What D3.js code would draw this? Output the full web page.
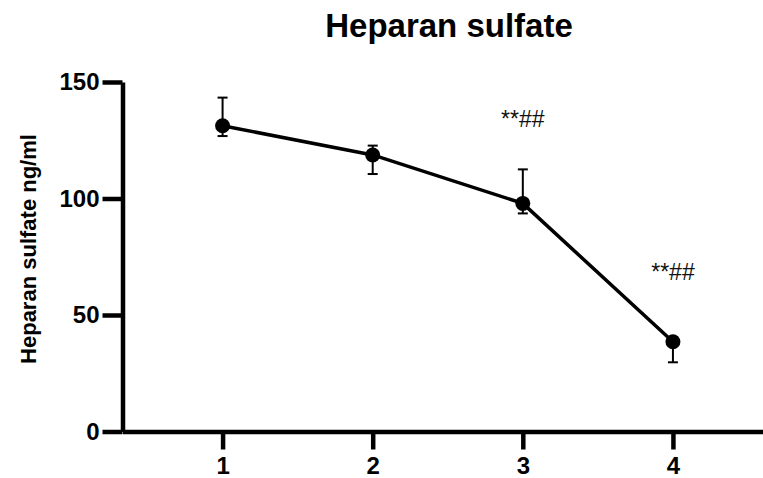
<!DOCTYPE html>
<html>
<head>
<meta charset="utf-8">
<script src="https://cdn.jsdelivr.net/npm/d3@7"></script>
<style>
    body { margin: 0; background: #ffffff; }
    svg { display: block; font-family: "Liberation Sans", Arial, sans-serif; }
</style>
</head>
<body>
<svg id="chart" width="763" height="478"></svg>
<script>
// Data
const groups = [1, 2, 3, 4];
const means = [131.2, 118.7, 97.9, 38.5];
const upper = [143.3, 122.7, 112.5, 40.5];
const lower = [126.8, 110.5, 93.6, 29.7];
const marks = ["**##", "**##"];
const markGroups = [3, 4];
const markValues = [130.7, 65];
const yTicks = [0, 50, 100, 150];

const svg = d3.select("#chart");

const x = d3.scaleLinear().domain([1 / 3, 4.6]).range([122.5, 763]);
const y = d3.scaleLinear().domain([0, 150]).range([431.5, 82]);

// Title
svg.append("text")
    .attr("x", 449)
    .attr("y", 37)
    .attr("text-anchor", "middle")
    .attr("font-size", 33)
    .attr("font-weight", "bold")
    .text("Heparan sulfate");

// Y label
svg.append("text")
    .attr("transform", "translate(36,249) rotate(-90)")
    .attr("text-anchor", "middle")
    .attr("font-size", 22)
    .attr("font-weight", "bold")
    .text("Heparan sulfate ng/ml");

// Axes
const yAxis = svg.append("g")
    .attr("transform", `translate(${x.range()[0]},0)`)
    .call(d3.axisLeft(y).tickValues(yTicks).tickSize(20).tickSizeOuter(0).tickPadding(3));

const xAxis = svg.append("g")
    .attr("transform", `translate(0,${y(0)})`)
    .call(d3.axisBottom(x).tickValues(groups).tickSize(18).tickSizeOuter(0).tickPadding(7).tickFormat(d3.format("d")));

for (const ax of [xAxis, yAxis]) {
    ax.attr("font-size", 24).attr("font-family", null);
    ax.select(".domain").attr("stroke", "#000").attr("stroke-width", 4.5);
    ax.selectAll(".tick line").attr("stroke", "#000").attr("stroke-width", 4.5);
    ax.selectAll(".tick text")
        .attr("fill", "#000")
        .attr("font-weight", "bold");
}

// Error bars
const pts = groups.map((g, i) => ({ g, m: means[i], hi: upper[i], lo: lower[i] }));

const err = svg.append("g").attr("stroke", "#000").attr("stroke-width", 2);
for (const d of pts) {
    err.append("line")
        .attr("x1", x(d.g)).attr("x2", x(d.g))
        .attr("y1", y(d.hi)).attr("y2", y(d.lo));
    for (const v of [d.hi, d.lo]) {
        err.append("line")
            .attr("x1", x(d.g) - 5).attr("x2", x(d.g) + 5)
            .attr("y1", y(v)).attr("y2", y(v));
    }
}

// Mean line
svg.append("path")
    .datum(pts)
    .attr("fill", "none")
    .attr("stroke", "#000")
    .attr("stroke-width", 3.5)
    .attr("d", d3.line().x((d) => x(d.g)).y((d) => y(d.m)));

svg.append("g")
    .selectAll("circle")
    .data(pts)
    .enter()
    .append("circle")
    .attr("cx", (d) => x(d.g))
    .attr("cy", (d) => y(d.m))
    .attr("r", 7.5)
    .attr("fill", "#000");

// Significance marks
svg.append("g")
    .selectAll("text")
    .data(marks)
    .enter()
    .append("text")
    .attr("x", (d, i) => x(markGroups[i]))
    .attr("y", (d, i) => y(markValues[i]))
    .attr("text-anchor", "middle")
    .attr("font-size", 23)
    .attr("fill", "#111")
    .text((d) => d);
</script>
</body>
</html>
